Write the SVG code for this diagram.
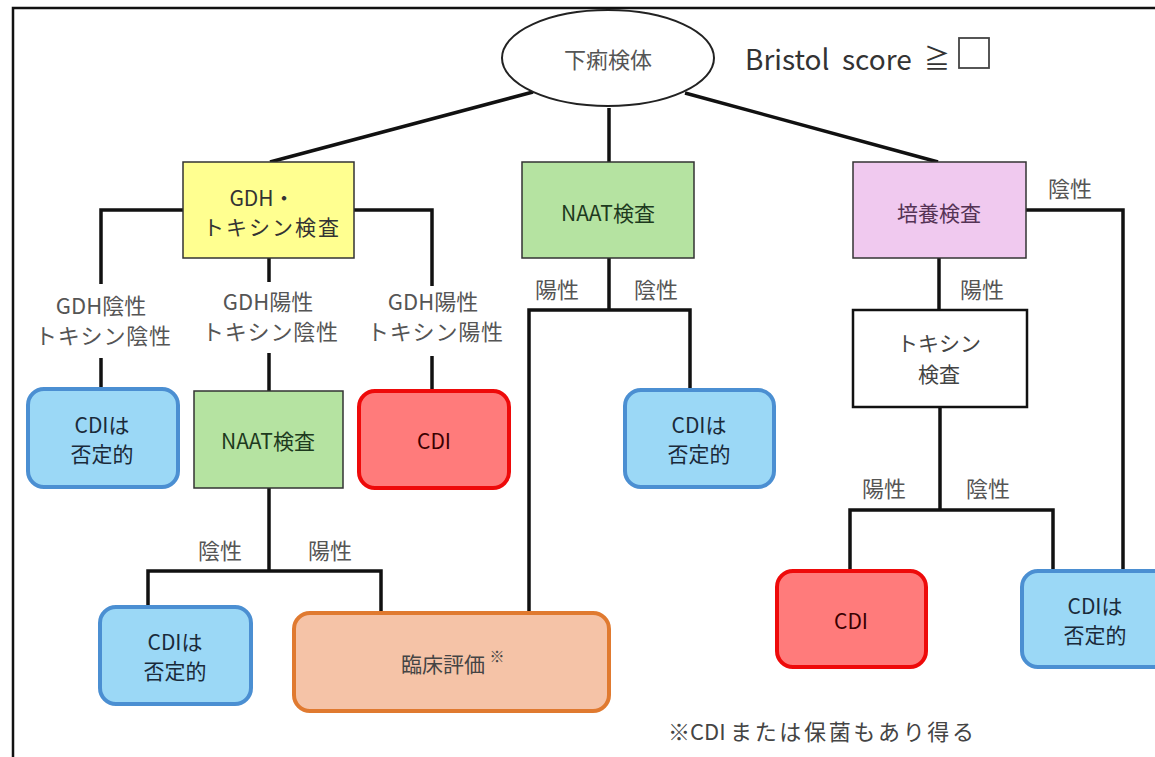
<svg xmlns="http://www.w3.org/2000/svg" width="1155" height="757" viewBox="0 0 1155 757">
<style>
text{font-family:"Noto Sans CJK JP","Noto Sans",sans-serif;text-anchor:middle;dominant-baseline:central}
.lbl{font-size:22px;fill:#555}
.bt{font-size:21px;fill:#333}
.dk{font-size:21px;fill:#1a2a3a}
.conn{stroke:#111;stroke-width:3.5;fill:none}
.blue{fill:#9bd8f6;stroke:#4b8fd2;stroke-width:4}
.red{fill:#ff7b7b;stroke:#ee0a0a;stroke-width:4}
.sq{stroke:#333;stroke-width:1.5}
.fn{font-size:22px;fill:#444;text-anchor:start}
.br{font-size:28px;fill:#333;text-anchor:start}
</style>
<rect x="0" y="0" width="1155" height="757" fill="#fff"/>
<path d="M13 757V8H1155" fill="none" stroke="#111" stroke-width="2.5"/>
<g id="connectors" class="conn">
<line x1="533" y1="92" x2="270" y2="162"/>
<line x1="609" y1="108" x2="609" y2="162"/>
<line x1="685" y1="93" x2="938" y2="162"/>
<path d="M183 210H101V284"/>
<path d="M101 358V387"/>
<path d="M269 258V282"/>
<path d="M269 353V391"/>
<path d="M354 210H432V286"/>
<path d="M432 356V390"/>
<path d="M609 258V310"/>
<path d="M529 612V310H690V388"/>
<path d="M269 488V571"/>
<path d="M148 607V571H381V613"/>
<path d="M939 258V310"/>
<path d="M940 407V510"/>
<path d="M850 570V510H1053V570"/>
<path d="M1026 210H1123V570"/>
</g>
<g id="start">
<ellipse cx="608" cy="58" rx="106" ry="48" fill="#fff" stroke="#222" stroke-width="2"/>
<text x="608" y="58" style="font-size:22px;fill:#555">下痢検体</text>
</g>
<g id="bristol">
<text x="745" y="58" class="br">Bristol</text>
<text x="842" y="58" class="br">score</text>
<text x="937" y="56" style="font-size:26px;fill:#333">≧</text>
<rect x="959" y="38" width="30" height="30" fill="#fff" stroke="#444" stroke-width="1.8"/>
</g>
<g id="gdh">
<rect x="183" y="162" width="171" height="96" fill="#ffff90" class="sq"/>
<text x="262" y="197" class="bt">GDH・</text>
<text x="271" y="226" class="bt" textLength="136">トキシン検査</text>
</g>
<g id="naat1">
<rect x="522" y="162" width="172" height="96" fill="#b5e3a1" class="sq"/>
<text x="608" y="212" class="bt" style="fill:#1e3a1e">NAAT検査</text>
</g>
<g id="culture">
<rect x="853" y="162" width="173" height="96" fill="#f0c9ef" class="sq"/>
<text x="939" y="212" class="bt" style="fill:#553355">培養検査</text>
</g>
<g id="labels">
<text x="101" y="304" class="lbl">GDH陰性</text>
<text x="103" y="334" class="lbl" textLength="136">トキシン陰性</text>
<text x="268" y="300" class="lbl">GDH陽性</text>
<text x="270" y="330" class="lbl" textLength="136">トキシン陰性</text>
<text x="433" y="300" class="lbl">GDH陽性</text>
<text x="435" y="330" class="lbl" textLength="136">トキシン陽性</text>
<text x="557" y="288" class="lbl">陽性</text>
<text x="656" y="288" class="lbl">陰性</text>
<text x="1070" y="187" class="lbl">陰性</text>
<text x="982" y="288" class="lbl">陽性</text>
<text x="884" y="487" class="lbl">陽性</text>
<text x="988" y="487" class="lbl">陰性</text>
<text x="220" y="549" class="lbl">陰性</text>
<text x="330" y="549" class="lbl">陽性</text>
</g>
<g id="neg1">
<rect x="28" y="389" width="150" height="98" rx="16" class="blue"/>
<text x="102" y="424" class="dk">CDIは</text>
<text x="102" y="453" class="dk">否定的</text>
</g>
<g id="naat2">
<rect x="194" y="391" width="149" height="97" fill="#b5e3a1" class="sq"/>
<text x="268" y="440" class="bt" style="fill:#1e3a1e">NAAT検査</text>
</g>
<g id="cdi1">
<rect x="359" y="391" width="150" height="97" rx="16" class="red"/>
<text x="434" y="440" class="bt" style="fill:#3a0000">CDI</text>
</g>
<g id="neg2">
<rect x="625" y="390" width="149" height="97" rx="16" class="blue"/>
<text x="699" y="424" class="dk">CDIは</text>
<text x="699" y="453" class="dk">否定的</text>
</g>
<g id="toxin">
<rect x="853" y="310" width="174" height="97" fill="#fff" stroke="#111" stroke-width="2.5"/>
<text x="939" y="342" class="bt" style="fill:#444">トキシン</text>
<text x="939" y="373" class="bt" style="fill:#444">検査</text>
</g>
<g id="neg3">
<rect x="100" y="607" width="151" height="97" rx="16" class="blue"/>
<text x="175" y="641" class="dk">CDIは</text>
<text x="175" y="670" class="dk">否定的</text>
</g>
<g id="clinical">
<rect x="294" y="613" width="315" height="98" rx="16" fill="#f5c3a7" stroke="#e07a30" stroke-width="4"/>
<text x="443" y="663" class="bt" style="fill:#444">臨床評価</text>
<text x="497" y="655" style="font-size:15px;fill:#444">※</text>
</g>
<g id="cdi2">
<rect x="777" y="571" width="149" height="96" rx="16" class="red"/>
<text x="851" y="620" class="bt" style="fill:#3a0000">CDI</text>
</g>
<g id="neg4">
<rect x="1022" y="571" width="150" height="96" rx="16" class="blue"/>
<text x="1095" y="605" class="dk">CDIは</text>
<text x="1095" y="634" class="dk">否定的</text>
</g>
<g id="footnote">
<text x="668" y="730" class="fn">※CDI</text>
<text x="730" y="730" class="fn" textLength="244">または保菌もあり得る</text>
</g>
</svg>
